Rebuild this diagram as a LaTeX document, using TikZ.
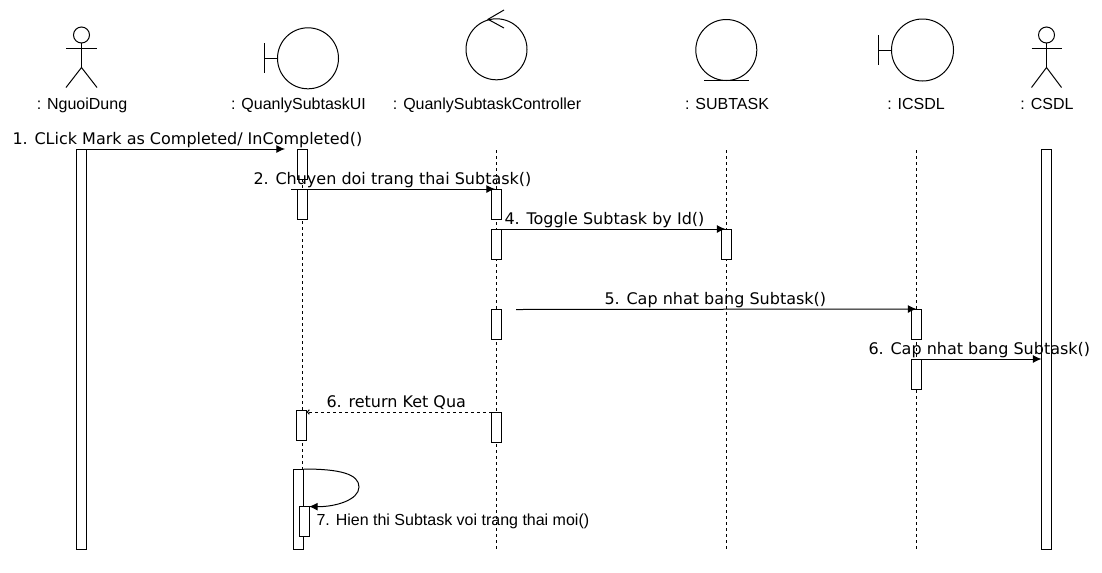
\documentclass[tikz,border=0pt]{standalone}
\usepackage{fontspec}
\setmainfont{Liberation Sans}
\newfontfamily\msgfont{DejaVu Sans}
\usetikzlibrary{arrows.meta}
\tikzset{every path/.style={black,line width=0.75pt},
  actbar/.style={draw,fill=white,inner sep=0pt,outer sep=0pt,minimum width=7.5pt,minimum height=#1},
  actbar/.default=22.5pt,
  role/.style={draw,circle,inner sep=0pt,outer sep=0pt,minimum size=#1},
  rolename/.style={anchor=base,inner sep=0pt,font=\fontsize{12}{14}\selectfont},
  msgname/.style={anchor=base west,inner sep=0pt,font=\msgfont\fontsize{12}{14}\selectfont},
  lifeline/.style={dash pattern=on 2.25pt off 2.25pt},
  msg/.style={-{Latex[length=6.5pt,width=6pt]}},
  backmsg/.style={lifeline,-{Straight Barb[length=1.5pt,width=3.5pt]}}}

\begin{document}
\begin{tikzpicture}[x=0.75pt,y=-0.75pt]
  \useasboundingbox (0,0) rectangle (1102,572);
  \node[role=12pt] (headA) at (81.5,35) {};
  \draw (headA.south) -- (81.5,67.5) coordinate (hipA);
  \draw (66,48) -- (97,48);
  \draw (66,87.5) -- (hipA) -- (97,87.5);
  \node[role=45.75pt] (ui) at (308,58.3) {};
  \node[coordinate] (uiEnd) at (264.3,58.3) {};
  \draw (uiEnd) -- (ui.west);
  \draw (264.3,43) -- (264.3,73);
  \node[role=45.75pt] (ctrl) at (496.5,49.3) {};
  \draw (504,10) -- (488,19.3) -- (504,28);
  \node[role=45.75pt] (subtask) at (726.3,50) {};
  \draw (704,80.5) -- (749,80.5);
  \node[role=46.5pt] (icsdl) at (922.5,50) {};
  \node[coordinate] (icsdlEnd) at (878.4,50) {};
  \draw (icsdlEnd) -- (icsdl.west);
  \draw (878.4,35) -- (878.4,65);
  \node[role=12pt] (headB) at (1046.5,35) {};
  \draw (headB.south) -- (1046.5,67.5) coordinate (hipB);
  \draw (1031.5,48) -- (1061.5,48);
  \draw (1031.5,87.5) -- (hipB) -- (1061.5,87.5);

  \node[rolename] (nameUser) at (82,109) {: NguoiDung};
  \node[rolename] (nameUi) at (298.5,109) {: QuanlySubtaskUI};
  \node[rolename] (nameCtrl) at (487,109) {: QuanlySubtaskController};
  \node[rolename] (nameSubtask) at (727,109) {: SUBTASK};
  \node[rolename] (nameIcsdl) at (916,109) {: ICSDL};
  \node[rolename] (nameCsdl) at (1047,109) {: CSDL};

  \coordinate (lifeUiTop) at (302,149);
  \coordinate (lifeUiEnd) at (302,469);
  \coordinate (lifeCtrlTop) at (496.5,150);
  \coordinate (lifeCtrlEnd) at (496.5,549);
  \coordinate (lifeSubtaskTop) at (726.5,150);
  \coordinate (lifeSubtaskEnd) at (726.5,549);
  \coordinate (lifeIcsdlTop) at (916.5,150);
  \coordinate (lifeIcsdlEnd) at (916.5,549);
  \draw[lifeline] (lifeUiTop) -- (lifeUiEnd);
  \draw[lifeline] (lifeCtrlTop) -- (lifeCtrlEnd);
  \draw[lifeline] (lifeSubtaskTop) -- (lifeSubtaskEnd);
  \draw[lifeline] (lifeIcsdlTop) -- (lifeIcsdlEnd);

  \node[actbar=300pt] (barUser) at (81.5,349) {};
  \node[actbar=300pt] (barCsdl) at (1046.5,349) {};
  \node[actbar] (barUiA) at (302,164) {};
  \node[actbar] (barUiB) at (302,204) {};
  \node[actbar] (barUiC) at (301.7,425) {};
  \node[actbar=60pt] (barSelf) at (298.7,509) {};
  \node[actbar] (barSelfIn) at (304,521.5) {};
  \node[actbar] (barCtrlA) at (496.5,204) {};
  \node[actbar] (barCtrlB) at (496.5,244) {};
  \node[actbar] (barCtrlC) at (496.5,324) {};
  \node[actbar] (barCtrlD) at (496.5,427) {};
  \node[actbar] (barSubtask) at (726.5,244) {};
  \node[actbar] (barIcsdlA) at (916.5,324) {};
  \node[actbar] (barIcsdlB) at (916.5,374) {};

  \coordinate (msgOneEnd) at (285,149);
  \coordinate (msgTwoStart) at (291,189);
  \coordinate (msgTwoEnd) at (495,189);
  \coordinate (msgFourEnd) at (725.5,229);
  \coordinate (msgFiveStart) at (516,309.5);
  \coordinate (msgFiveEnd) at (916.5,309);
  \draw[msg] (barUser.north east) -- (msgOneEnd);
  \draw[msg] (msgTwoStart) -- (msgTwoEnd);
  \draw[msg] (barCtrlB.north east) -- (msgFourEnd);
  \draw[msg] (msgFiveStart) -- (msgFiveEnd);
  \draw[msg] (barIcsdlB.north east) -- (barCsdl.west |- barIcsdlB.north);
  \draw[backmsg] (barCtrlD.north west) -- (barUiC.north east |- barCtrlD.north);
  \draw[msg] (barSelf.north east) .. controls (340,469) and (359,474) .. (359,487)
    .. controls (359,500) and (335,507) .. (barSelfIn.north east);

  \node[msgname] (msgOne) at (12,144.5) {1. CLick Mark as Completed/ InCompleted()};
  \node[msgname] (msgTwo) at (253,184.5) {2. Chuyen doi trang thai Subtask()};
  \node[msgname] (msgFour) at (504,224.5) {4. Toggle Subtask by Id()};
  \node[msgname] (msgFive) at (604,304.5) {5. Cap nhat bang Subtask()};
  \node[msgname] (msgSix) at (868,354.5) {6. Cap nhat bang Subtask()};
  \node[msgname] (msgBack) at (326,407) {6. return Ket Qua};
  \node[rolename,anchor=base west] (msgSeven) at (316,525) {7. Hien thi Subtask voi trang thai moi()};
\end{tikzpicture}
\end{document}
